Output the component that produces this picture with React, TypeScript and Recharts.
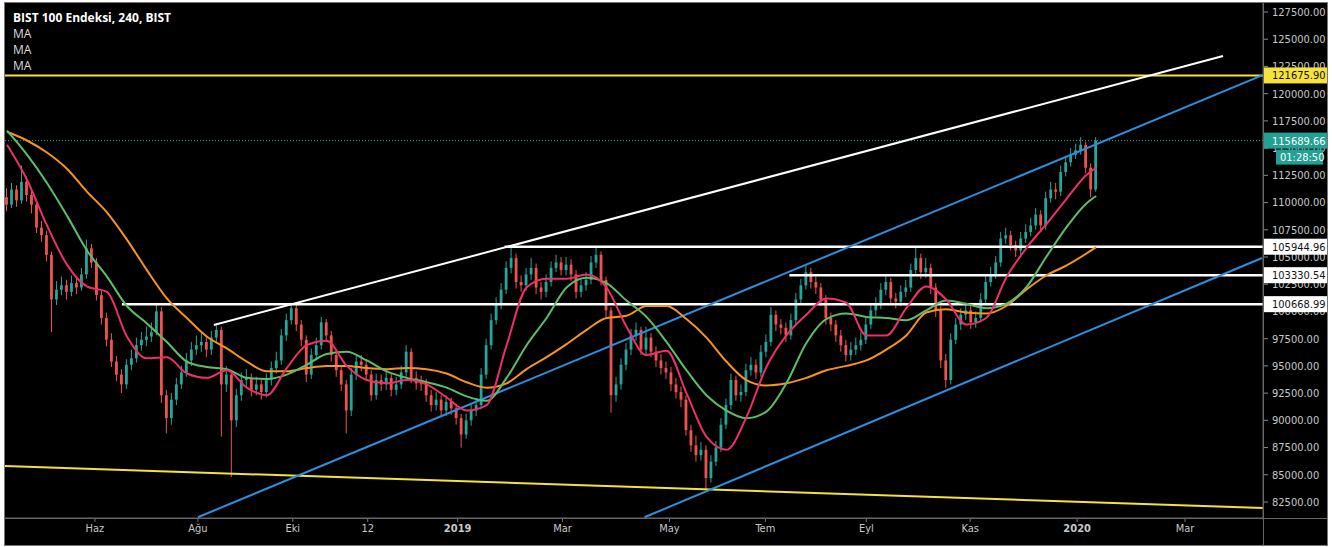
import React from 'react';
import {
  ComposedChart,
  Bar,
  Line,
  XAxis,
  YAxis,
  ReferenceLine,
} from 'recharts';

// BIST 100, 240-minute candles, values in thousands of index points
const FIRST_OPEN = 110.5;
const closes = [
  109.8, 111.2, 110.2, 111.9, 110.7, 109.8, 107.7, 107.0, 105.2, 101.1,
  102.0, 102.4, 101.8, 102.6, 102.2, 103.4, 105.8, 104.5, 101.5, 99.4,
  97.4, 95.4, 94.2, 93.3, 95.1, 95.7, 96.9, 97.4, 97.7, 98.1,
  100.0, 92.3, 90.2, 91.9, 93.3, 94.4, 95.5, 96.5, 96.9, 97.2,
  96.5, 97.6, 98.3, 93.3, 94.2, 90.0, 92.3, 93.7, 93.9, 92.8,
  93.3, 92.6, 93.7, 94.8, 95.5, 97.8, 99.2, 100.3, 98.8, 97.4,
  94.2, 96.0, 96.9, 99.0, 97.8, 96.0, 94.6, 93.3, 90.9, 94.2,
  95.4, 95.1, 94.2, 92.3, 93.7, 93.3, 93.9, 92.8, 93.3, 94.4,
  96.3, 93.9, 93.4, 93.3, 92.3, 91.4, 91.9, 90.9, 91.7, 91.1,
  90.2, 88.7, 90.0, 90.9, 91.4, 94.2, 96.9, 99.2, 100.6, 102.0,
  104.0, 104.9, 102.7, 102.4, 103.4, 104.0, 102.2, 101.8, 102.7, 104.0,
  104.5, 103.8, 104.3, 103.4, 101.8, 102.4, 102.9, 104.5, 105.2, 102.9,
  100.1, 92.3, 93.3, 95.1, 96.5, 97.8, 98.3, 96.5, 97.6, 96.3,
  95.5, 94.8, 94.4, 93.3, 92.6, 91.9, 89.1, 87.7, 86.8, 87.3,
  84.7, 86.2, 87.5, 89.6, 91.4, 93.7, 92.3, 92.6, 94.6, 95.1,
  94.4, 96.3, 97.2, 99.7, 98.8, 98.5, 97.8, 99.2, 101.1, 102.4,
  103.6, 102.7, 102.2, 101.1, 99.4, 98.8, 97.8, 96.9, 96.0, 96.5,
  96.9, 97.4, 98.8, 100.1, 100.6, 102.0, 102.7, 101.2, 100.9, 101.8,
  102.2, 103.8, 104.9, 103.6, 104.0, 102.2, 100.1, 95.5, 93.7, 97.4,
  98.8, 99.7, 100.1, 99.0, 99.4, 101.1, 102.7, 103.4, 104.5, 106.7,
  107.0, 106.1, 105.6, 106.7, 107.3, 107.9, 108.9, 107.9, 110.4, 111.2,
  111.0, 112.8, 113.7, 114.4, 114.8, 115.3, 113.2, 111.2, 115.68966,
];
const highs = [
  111.3, 111.8, 111.6, 113.4, 112.4, 111.1, 110.1, 108.3, 107.4, 105.5,
  102.8, 103.2, 102.9, 103.3, 103.1, 104.0, 106.6, 106.2, 104.9, 101.9,
  99.9, 98.0, 95.9, 94.7, 95.6, 96.5, 97.6, 98.1, 98.6, 99.0,
  100.8, 100.4, 92.8, 92.5, 93.9, 95.0, 96.2, 97.2, 97.8, 98.0,
  97.7, 98.2, 98.9, 98.6, 95.0, 94.6, 92.9, 94.4, 94.7, 94.3,
  94.0, 93.8, 94.3, 95.4, 96.3, 98.4, 99.8, 100.8, 100.6, 99.2,
  97.8, 96.6, 97.6, 99.5, 99.3, 98.2, 96.5, 95.0, 93.7, 94.8,
  96.0, 96.0, 95.6, 94.6, 94.3, 94.2, 94.6, 94.3, 94.0, 95.0,
  96.9, 96.6, 94.5, 94.1, 93.8, 92.8, 92.6, 92.3, 92.3, 92.1,
  91.5, 90.6, 90.6, 91.5, 92.0, 94.8, 97.5, 99.8, 101.3, 102.6,
  104.6, 106.0, 105.3, 103.3, 104.0, 104.9, 104.4, 102.7, 103.4, 104.6,
  105.2, 105.0, 105.0, 104.8, 103.8, 103.0, 103.6, 105.1, 106.0, 105.5,
  103.2, 100.4, 94.0, 95.7, 97.1, 98.4, 99.0, 98.6, 98.6, 98.0,
  96.8, 96.1, 95.4, 94.9, 93.9, 93.1, 92.3, 89.6, 88.6, 88.0,
  87.7, 86.8, 88.1, 90.2, 92.0, 94.3, 94.1, 93.3, 95.2, 95.8,
  95.6, 96.9, 97.9, 100.4, 100.1, 99.3, 99.0, 99.8, 101.7, 103.0,
  104.3, 104.0, 103.2, 102.6, 101.5, 99.9, 99.2, 98.3, 97.4, 97.2,
  97.6, 98.1, 99.4, 100.7, 101.3, 102.6, 103.4, 103.1, 101.7, 102.4,
  102.9, 104.4, 105.9, 105.3, 104.9, 104.4, 102.6, 100.5, 96.1, 98.0,
  99.4, 100.3, 100.8, 100.5, 100.0, 101.7, 103.3, 104.1, 105.1, 107.3,
  107.7, 107.4, 106.5, 107.3, 108.0, 108.6, 109.5, 109.3, 111.0, 111.9,
  111.8, 113.4, 114.3, 115.0, 115.4, 116.0, 115.6, 113.6, 116.0,
];
const lows = [
  109.2, 109.5, 109.6, 109.9, 110.1, 109.0, 107.2, 106.4, 104.6, 98.1,
  100.6, 101.5, 101.1, 101.4, 101.6, 101.9, 103.0, 104.0, 101.0, 98.8,
  96.8, 94.9, 93.6, 92.5, 92.9, 94.6, 95.3, 96.4, 96.8, 97.2,
  97.8, 91.6, 88.8, 89.6, 91.4, 92.9, 94.0, 95.0, 96.0, 96.3,
  95.8, 96.0, 97.2, 88.5, 92.6, 84.8, 89.4, 91.8, 93.0, 92.2,
  92.3, 91.9, 92.1, 93.2, 94.3, 95.1, 97.3, 98.8, 98.2, 96.8,
  93.5, 93.8, 95.5, 96.5, 97.2, 95.4, 94.0, 92.7, 88.8, 90.4,
  93.7, 94.5, 93.6, 91.8, 91.9, 92.7, 92.8, 92.2, 92.3, 92.9,
  94.0, 93.4, 92.8, 92.7, 91.7, 90.8, 90.9, 90.3, 90.4, 90.5,
  89.6, 87.5, 88.3, 89.5, 90.4, 91.0, 93.8, 96.5, 98.8, 100.2,
  101.6, 103.5, 102.1, 101.8, 101.9, 102.9, 101.6, 101.1, 101.3, 102.3,
  103.6, 103.3, 103.3, 102.8, 101.2, 101.3, 101.9, 102.5, 104.0, 102.4,
  99.5, 90.7, 91.7, 92.8, 94.6, 96.0, 97.3, 96.0, 96.0, 95.8,
  94.9, 94.2, 93.8, 92.7, 92.0, 91.2, 88.6, 87.1, 86.2, 86.3,
  83.6, 84.3, 85.8, 87.1, 89.2, 91.0, 91.8, 91.7, 92.2, 94.1,
  93.8, 94.0, 95.8, 96.8, 98.2, 97.9, 97.2, 97.4, 98.8, 100.6,
  102.0, 102.1, 101.6, 100.5, 98.8, 98.2, 97.2, 96.3, 95.4, 95.5,
  96.0, 96.4, 97.0, 98.4, 99.6, 100.2, 101.5, 100.7, 100.3, 100.5,
  101.3, 101.8, 103.4, 103.0, 103.1, 101.6, 99.5, 94.8, 93.0, 93.3,
  97.0, 98.3, 99.2, 98.4, 98.5, 99.0, 100.7, 102.3, 103.0, 104.1,
  106.2, 105.6, 105.0, 105.2, 106.3, 106.9, 107.5, 107.3, 107.5, 110.0,
  110.3, 110.6, 112.4, 113.3, 114.0, 114.4, 112.7, 110.5, 111.0,
];

// moving averages, read every 4th bar (plus the last one)
const maBars = [
  0, 4, 8, 12, 16, 20, 24, 28, 32, 36, 40, 44, 48, 52, 56, 60, 64, 68, 72, 76,
  80, 84, 88, 92, 96, 100, 104, 108, 112, 116, 120, 124, 128, 132, 136, 140,
  144, 148, 152, 156, 160, 164, 168, 172, 176, 180, 184, 188, 192, 196, 200,
  204, 208, 212, 216, 218,
];
const maFast = [
  115.3, 112.1, 107.9, 104.3, 102.3, 101.8, 97.7, 95.7, 95.8, 94.3,
  93.9, 94.6, 93.0, 92.3, 94.8, 96.9, 97.3, 95.0, 93.7, 93.4,
  93.7, 93.3, 92.1, 90.9, 91.4, 96.9, 102.2, 103.0, 103.0, 103.4,
  102.2, 98.6, 96.0, 96.4, 92.5, 88.5, 87.3, 90.3, 94.9, 97.8,
  99.7, 101.2, 100.8, 97.8, 97.8, 100.3, 102.3, 101.1, 98.8, 99.4,
  103.1, 105.8, 108.0, 110.3, 112.5, 113.2,
];
const maMid = [
  116.6, 114.4, 111.8, 108.8, 105.6, 103.2, 100.5, 98.9, 97.2, 95.4,
  94.9, 94.7, 93.9, 93.8, 94.2, 95.1, 96.1, 96.3, 95.5, 94.5,
  93.9, 93.5, 93.0, 92.2, 91.8, 93.9, 96.9, 99.4, 102.2, 103.1,
  102.6, 101.0, 99.5, 97.2, 94.6, 92.3, 90.9, 90.2, 90.8, 93.4,
  97.1, 99.3, 99.8, 99.5, 99.4, 99.2, 100.1, 101.0, 100.7, 100.3,
  100.7, 102.2, 105.0, 107.7, 109.9, 110.6,
];
const maSlow = [
  116.5, 115.7, 114.6, 113.1, 111.0, 109.1, 106.6, 103.8, 101.2, 99.4,
  97.7, 96.6, 95.4, 94.5, 94.5, 94.8, 95.0, 95.0, 94.8, 94.7,
  94.8, 94.7, 94.3, 93.5, 93.0, 93.4, 94.7, 95.8, 97.0, 98.3,
  99.4, 99.6, 100.5, 100.5, 99.3, 97.6, 95.4, 93.7, 93.2, 93.4,
  93.9, 94.6, 95.0, 95.5, 96.5, 97.8, 99.9, 100.2, 99.9, 99.8,
  100.5, 102.0, 103.3, 104.2, 105.3, 105.9,
];

// time axis (bar positions of the labels)
const timeTicks = [17.6, 38.2, 57.2, 72.2, 90.2, 111.2, 132.6, 151.8, 172, 192.8, 214.2, 235.8];
const timeLabels = ['Haz', 'Ağu', 'Eki', '12', '2019', 'Mar', 'May', 'Tem', 'Eyl', 'Kas', '2020', 'Mar'];
const priceTicks = [
  82500, 85000, 87500, 90000, 92500, 95000, 97500, 100000, 102500, 105000,
  107500, 110000, 112500, 115000, 117500, 120000, 122500, 125000, 127500,
];

// drawings: levels and trend lines (bar, price)
const lastPrice = 115689.66;
const resistanceTop = 121675.9;
const levels = [
  { from: 99.6, price: 105944.96 },
  { from: 156.6, price: 103330.54 },
  { from: 23, price: 100668.99 },
];
const whiteTrend = [{ bar: 41.4, price: 98754 }, { bar: 243.4, price: 123459 }];
const channelUpper = [{ bar: 38.2, price: 81100 }, { bar: 251.2, price: 121675.9 }];
const channelLower = [{ bar: 127.6, price: 81100 }, { bar: 251.2, price: 104907 }];
const supportLine = [{ bar: -0.4, price: 85805 }, { bar: 251.4, price: 81947 }];

// price tags on the right scale
const tagPrices = [121675.9, 115689.66, 105944.96, 103330.54, 100668.99];
const tagFills = ['#f5e33b', '#22a093', '#ffffff', '#ffffff', '#ffffff'];
const tagText = ['#111', '#ffffff', '#111', '#111', '#111'];
const countdown = '01:28:50';

const UP = '#26a69a';
const DOWN = '#ef5350';
const FONT = '"DejaVu Sans Condensed", "Liberation Sans Narrow", "Roboto Condensed", Roboto, sans-serif';

const maMap = new Map<number, number>();
maBars.forEach((b, i) => maMap.set(b, i));

const data = closes.map((c, i) => {
  const open = i === 0 ? FIRST_OPEN : closes[i - 1];
  const m = maMap.get(i);
  return {
    bar: i,
    open: open * 1000,
    close: c * 1000,
    high: highs[i] * 1000,
    low: lows[i] * 1000,
    range: [lows[i] * 1000, highs[i] * 1000],
    fast: m !== undefined ? maFast[m] * 1000 : null,
    mid: m !== undefined ? maMid[m] * 1000 : null,
    slow: m !== undefined ? maSlow[m] * 1000 : null,
  };
});

const Candle = (props: any) => {
  const { x, y, width, height, payload } = props;
  if (x == null || y == null) return null;
  const top = Math.min(y, y + height);
  const h = Math.abs(height);
  const { open, close, high, low } = payload;
  const color = close >= open ? UP : DOWN;
  const k = high === low ? 0 : h / (high - low);
  const yo = top + (high - open) * k;
  const yc = top + (high - close) * k;
  const cx = x + width / 2;
  const bTop = Math.min(yo, yc);
  const bH = Math.max(1, Math.abs(yo - yc));
  return (
    <g>
      <line x1={cx} x2={cx} y1={top} y2={top + h} stroke={color} strokeWidth={1} />
      <rect x={cx - 1.4} y={bTop} width={2.8} height={bH} fill={color} />
    </g>
  );
};

// drawn by a second, zero-width right axis so the tags sit above the scale labels
const TagTick = (props: any) => {
  const { x, y, payload } = props;
  const i = tagPrices.indexOf(payload.value);
  if (i < 0) return null;
  const x0 = x - 65;
  return (
    <g>
      <rect x={x0} y={y - 8} width={64} height={16} fill={tagFills[i]} />
      <text x={x0 + 9} y={y + 4} fill={tagText[i]} fontSize={11} fontFamily={FONT}>
        {payload.value.toFixed(2)}
      </text>
      {payload.value === lastPrice && (
        <g>
          <rect x={x0 + 13} y={y + 9} width={47} height={15} fill={tagFills[i]} />
          <text x={x0 + 17} y={y + 20.5} fill={tagText[i]} fontSize={11} fontFamily={FONT}>
            {countdown}
          </text>
        </g>
      )}
    </g>
  );
};

const TimeTick = (props: any) => {
  const { x, y, payload } = props;
  const i = timeTicks.indexOf(payload.value);
  const label = timeLabels[i] ?? '';
  const bold = label === '2019' || label === '2020';
  return (
    <text x={x} y={y + 8} textAnchor="middle" fill="#c8c8c8" fontSize={11}
      fontWeight={bold ? 'bold' : 'normal'} fontFamily={FONT}>
      {label}
    </text>
  );
};

export default function App() {
  const seg = (pts: { bar: number; price: number }[]) =>
    pts.map((p) => ({ x: p.bar, y: p.price })) as any;

  return (
    <div style={{ position: 'absolute', left: 0, top: 0, width: 1332, height: 547, background: '#fff' }}>
      <div style={{
        position: 'absolute', left: 4, top: 2, width: 1322, height: 542,
        background: '#000', border: '1px solid #777',
      }} />
      <div style={{ position: 'absolute', left: 0, top: 0 }}>
        <ComposedChart
          width={1332}
          height={547}
          data={data}
          margin={{ top: 3, right: 3, bottom: 0, left: 5 }}
          style={{ fontFamily: FONT }}
        >
          <XAxis
            dataKey="bar"
            type="number"
            domain={[-0.4, 251.4]}
            ticks={timeTicks}
            allowDataOverflow
            height={29}
            tick={<TimeTick />}
            tickSize={4}
            tickLine={{ stroke: '#777' }}
            axisLine={{ stroke: '#666' }}
            interval={0}
          />
          <YAxis
            yAxisId="price"
            orientation="right"
            domain={[81030, 128327]}
            ticks={priceTicks}
            allowDataOverflow
            width={65}
            tick={{ fill: '#c8c8c8', fontSize: 11 }}
            tickFormatter={(v: number) => v.toFixed(2)}
            tickSize={5}
            tickMargin={4}
            tickLine={{ stroke: '#888' }}
            axisLine={{ stroke: '#666' }}
            interval={0}
          />
          <YAxis
            yAxisId="tags"
            orientation="right"
            domain={[81030, 128327]}
            ticks={tagPrices}
            allowDataOverflow
            width={1}
            tick={<TagTick />}
            tickSize={0}
            tickMargin={0}
            tickLine={false}
            axisLine={false}
            interval={0}
          />
          <ReferenceLine yAxisId="price" y={lastPrice} stroke="#26a69a" strokeDasharray="1 2" strokeWidth={1} />
          <ReferenceLine yAxisId="price" y={resistanceTop} stroke="#f5e33b" strokeWidth={2} />
          <ReferenceLine yAxisId="price" segment={seg(supportLine)} stroke="#f5e33b" strokeWidth={2} ifOverflow="visible" />
          {levels.map((l) => (
            <ReferenceLine
              key={l.price}
              yAxisId="price"
              segment={[{ x: l.from, y: l.price }, { x: 251.4, y: l.price }]}
              stroke="#ffffff"
              strokeWidth={2.5}
              ifOverflow="visible"
            />
          ))}
          <ReferenceLine yAxisId="price" segment={seg(whiteTrend)} stroke="#ffffff" strokeWidth={2} ifOverflow="visible" />
          <ReferenceLine yAxisId="price" segment={seg(channelUpper)} stroke="#2e8fe0" strokeWidth={2} ifOverflow="visible" />
          <ReferenceLine yAxisId="price" segment={seg(channelLower)} stroke="#2e8fe0" strokeWidth={2} ifOverflow="visible" />
          <Bar yAxisId="price" dataKey="range" barSize={4} shape={<Candle />} isAnimationActive={false} />
          <Line yAxisId="price" type="monotone" dataKey="slow" stroke="#f7931e" strokeWidth={2} dot={false} connectNulls isAnimationActive={false} />
          <Line yAxisId="price" type="monotone" dataKey="mid" stroke="#5cbf68" strokeWidth={2} dot={false} connectNulls isAnimationActive={false} />
          <Line yAxisId="price" type="monotone" dataKey="fast" stroke="#ee2f6a" strokeWidth={2} dot={false} connectNulls isAnimationActive={false} />
        </ComposedChart>
      </div>
      <div style={{ position: 'absolute', left: 4, top: 518, width: 1323, height: 1, background: '#666' }} />
      <div style={{ position: 'absolute', left: 1263, top: 2, width: 1, height: 543, background: '#666' }} />
      <div style={{ position: 'absolute', left: 13, top: 10, color: '#fff', fontFamily: '"Open Sans", sans-serif', fontSize: 12, lineHeight: '16px' }}>
        <div style={{ fontWeight: 'bold' }}>BIST 100 Endeksi, 240, BIST</div>
        <div style={{ color: '#ddd' }}>MA</div>
        <div style={{ color: '#ddd' }}>MA</div>
        <div style={{ color: '#ddd' }}>MA</div>
      </div>
    </div>
  );
}
